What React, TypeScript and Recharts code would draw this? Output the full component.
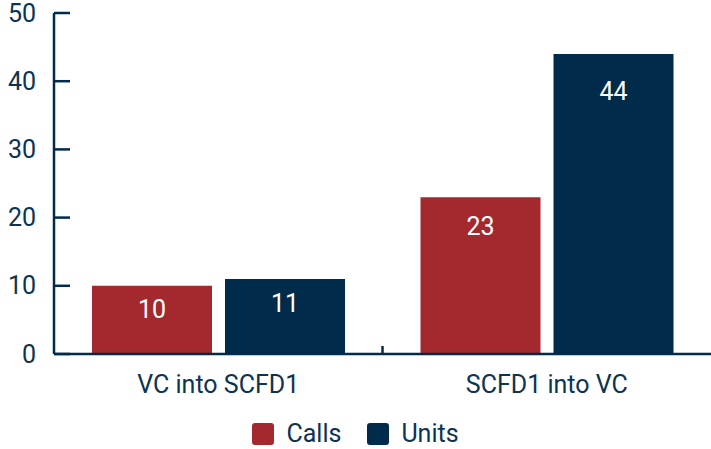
import React from 'react';
import {BarChart, Bar, XAxis, YAxis, LabelList, Legend} from 'recharts';

const categories = ['VC into SCFD1', 'SCFD1 into VC'];
const calls = [10, 23];
const units = [11, 44];
const yTicks = [0, 10, 20, 30, 40, 50];

const RED = '#a4292f';
const NAVY = '#002b4b';
const TEXT = '#0e3350';
const FONT = 25;

const data = categories.map((name, i) => ({name, calls: calls[i], units: units[i]}));

// y tick: label plus a short tick line pointing into the plot
const YTick = ({x, y, payload}: any) => (
    <g>
        <line x1={x + 16} x2={x + 32} y1={y} y2={y} stroke={NAVY} strokeWidth={2.5} />
        <text x={x - 2} y={y} textAnchor="end" dominantBaseline="central" fill={TEXT} fontSize={FONT}>{payload.value}</text>
    </g>
);

// x tick: category name, plus divider tick between categories
const XTick = ({x, y, payload, index, width, visibleTicksCount}: any) => {
    const band = width / (visibleTicksCount || 2);
    return (
        <g>
            {index > 0 && <line x1={x - band / 2} x2={x - band / 2} y1={y - 16} y2={y - 24} stroke={NAVY} strokeWidth={2.5} />}
            <text x={x} y={y + 14} textAnchor="middle" dominantBaseline="central" fill={TEXT} fontSize={FONT}>{payload.value}</text>
        </g>
    );
};

const BarLabel = ({x, y, width, height, value}: any) => (
    <text x={x + width / 2} y={y + 20 + 0.06 * height} textAnchor="middle" dominantBaseline="central"
          fill="#ffffff" fontSize={FONT}>{value}</text>
);

const LegendBox = ({payload}: any) => (
    <div style={{display: 'flex', justifyContent: 'center', gap: 26, fontSize: FONT, color: TEXT, paddingTop: 15}}>
        {(payload || []).map((p: any) => (
            <span key={p.value} style={{display: 'flex', alignItems: 'center'}}>
                <span style={{width: 22, height: 22, borderRadius: 3, background: p.color, marginRight: 12, display: 'inline-block'}} />
                {p.value}
            </span>
        ))}
    </div>
);

const App = () => {
    return (
        <div style={{position: 'absolute', left: 0, top: 0, fontFamily: 'Roboto, sans-serif'}}>
            <BarChart width={711} height={449} data={data} margin={{top: 13, right: 0, bottom: 0, left: 0}}
                      barGap={13} barCategoryGap={38}>
                <XAxis dataKey="name" tickLine={false} axisLine={{stroke: NAVY, strokeWidth: 2.5}}
                       tick={<XTick />} tickSize={0} tickMargin={16} height={50} />
                <YAxis domain={[0, 50]} ticks={yTicks} width={54} tickSize={0} tickMargin={16} tickLine={false}
                       axisLine={{stroke: NAVY, strokeWidth: 2.5}} tick={<YTick />} />
                <Legend content={<LegendBox />} height={45} verticalAlign="bottom" />
                <Bar dataKey="calls" name="Calls" fill={RED} isAnimationActive={false}>
                    <LabelList dataKey="calls" content={<BarLabel />} />
                </Bar>
                <Bar dataKey="units" name="Units" fill={NAVY} isAnimationActive={false}>
                    <LabelList dataKey="units" content={<BarLabel />} />
                </Bar>
            </BarChart>
        </div>
    );
};

export default App;
